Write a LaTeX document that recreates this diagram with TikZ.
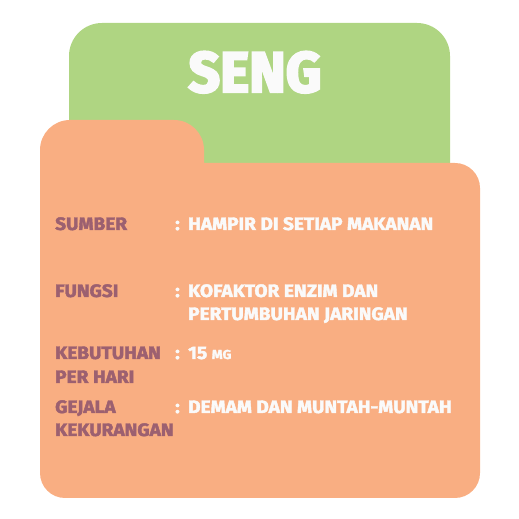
\documentclass[tikz,border=0pt]{standalone}
\usepackage{fontspec}
\setmainfont{Fira Sans}[BoldFeatures={FakeBold=2.3,FakeStretch=1.06}]
\newfontfamily\titlefont{Fira Sans}[BoldFeatures={FakeBold=4,FakeStretch=0.97}]
\definecolor{tabgreen}{HTML}{AFD582}
\definecolor{folder}{HTML}{F9AE82}
\definecolor{mauve}{HTML}{9C6070}
\definecolor{offwhite}{HTML}{FAFAFA}
\tikzset{
  lbl/.style={anchor=base west, inner sep=0pt, text=mauve, font=\fontsize{18}{18}\selectfont\bfseries},
  val/.style={anchor=base west, inner sep=0pt, text=offwhite, font=\fontsize{18}{18}\selectfont\bfseries},
  title/.style={anchor=base, inner sep=0pt, text=offwhite, font=\titlefont\fontsize{57}{57}\selectfont\bfseries}
}
\begin{document}
\begin{tikzpicture}[x=1pt,y=1pt]
\useasboundingbox (0,0) rectangle (519,519);
% green back card
\fill[tabgreen, rounded corners=33pt] (69,250) rectangle (450,496);
% orange folder
\fill[folder] (40,46) -- (40,369) arc[start angle=180,end angle=90,radius=30pt]
  -- (174,399) arc[start angle=90,end angle=0,radius=30pt]
  -- (204,356) -- (455,356) arc[start angle=90,end angle=0,radius=25pt]
  -- (480,46) arc[start angle=0,end angle=-90,radius=25pt]
  -- (65,21) arc[start angle=270,end angle=180,radius=25pt] -- cycle;
% title
\node[title] (t) at (255,427) {SENG};
% rows
\node[lbl] (l1) at (55,289) {SUMBER};
\node[val] (c1) at (175,289) {:};
\node[val] (v1) at (188,289) {HAMPIR DI SETIAP MAKANAN};
\node[lbl] (l2) at (55,222) {FUNGSI};
\node[val] (c2) at (175,222) {:};
\node[val] (v2) at (188,222) {KOFAKTOR ENZIM DAN};
\node[val] (v2b) at (188,199) {PERTUMBUHAN JARINGAN};
\node[lbl] (l3) at (55,160) {KEBUTUHAN};
\node[lbl] (l3b) at (55,136) {PER HARI};
\node[val] (c3) at (175,160) {:};
\node[val] (v3) at (188,160) {15 {\fontsize{13}{13}\selectfont MG}};
\node[lbl] (l4) at (55,106) {GEJALA};
\node[lbl] (l4b) at (55,83) {KEKURANGAN};
\node[val] (c4) at (175,106) {:};
\node[val] (v4) at (188,106) {DEMAM DAN MUNTAH-MUNTAH};
\end{tikzpicture}
\end{document}
